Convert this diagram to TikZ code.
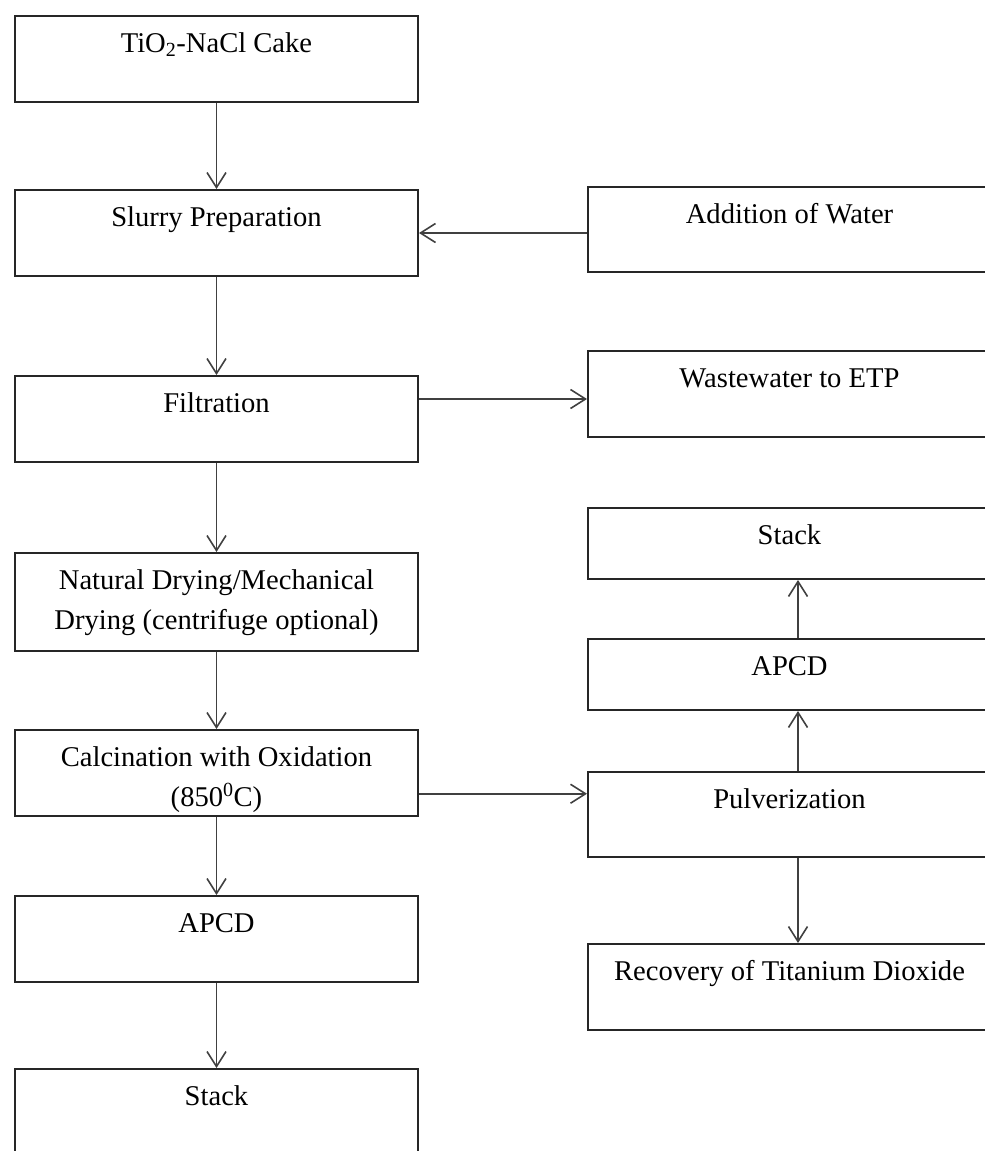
\documentclass[tikz,border=0pt]{standalone}
\usepackage{fontspec}
\setmainfont{Liberation Serif}
\usetikzlibrary{arrows.meta, positioning, calc}

\begin{document}
\begin{tikzpicture}[x=1pt, y=-1pt, box/.style={draw=black!85, line width=2pt, inner sep=0pt, minimum width=403pt, anchor=north west, text height=36pt, text depth=50pt, font=\fontsize{28.6}{40}\selectfont}, low/.style={box, text depth=35pt}, flow/.style={draw=black!75, line width=1.6pt, -{Straight Barb[length=15pt, width=19pt]}}]
        \clip (0,0) rectangle (985,1151);
        % main line
        \node[box] (cake) at (14,15) {TiO\textsubscript{2}-NaCl Cake};
        \node[box] (slurry) at (14,189) {Slurry Preparation};
        \node[box] (filt) at (14,375) {Filtration};
        \node[box, text depth=62pt] (dry) at (14,552) {\begin{tabular}[t]{@{}c@{}}Natural Drying/Mechanical\\Drying (centrifuge optional)\end{tabular}};
        \node[box] (calc) at (14,729) {\begin{tabular}[t]{@{}c@{}}Calcination with Oxidation\\(850\textsuperscript{0}C)\end{tabular}};
        \node[box] (apcd) at (14,895) {APCD};
        \node[box, text depth=110pt] (stack) at (14,1068) {Stack};
        % side line
        \node[box, text depth=49pt] (water) at (587,186) {Addition of Water};
        \node[box] (waste) at (587,350) {Wastewater to ETP};
        \node[low] (stackb) at (587,507) {Stack};
        \node[low] (apcdb) at (587,638) {APCD};
        \node[box, text depth=49pt] (pulv) at (587,771) {Pulverization};
        \node[box] (recov) at (587,943) {Recovery of Titanium Dioxide};
        \coordinate (w) at ([yshift=-5pt]waste.west);
        \coordinate (m) at ($(calc.east)!0.5!(pulv.west)$);
        \draw[flow] (cake) -- (slurry);
        \draw[flow] (slurry) -- (filt);
        \draw[flow] (filt) -- (dry);
        \draw[flow] (dry) -- (calc);
        \draw[flow] (calc) -- (apcd);
        \draw[flow] (apcd) -- (stack);
        \draw[flow] (water.west |- slurry.east) -- (slurry.east);
        \draw[flow] (filt.east |- w) -- (w);
        \draw[flow] (calc.east |- m) -- (pulv.west |- m);
        \draw[flow] ([xshift=8.5pt]pulv.north) -- ([xshift=8.5pt]apcdb.south);
        \draw[flow] ([xshift=8.5pt]apcdb.north) -- ([xshift=8.5pt]stackb.south);
        \draw[flow] ([xshift=8.5pt]pulv.south) -- ([xshift=8.5pt]recov.north);
    \end{tikzpicture}
\end{document}
